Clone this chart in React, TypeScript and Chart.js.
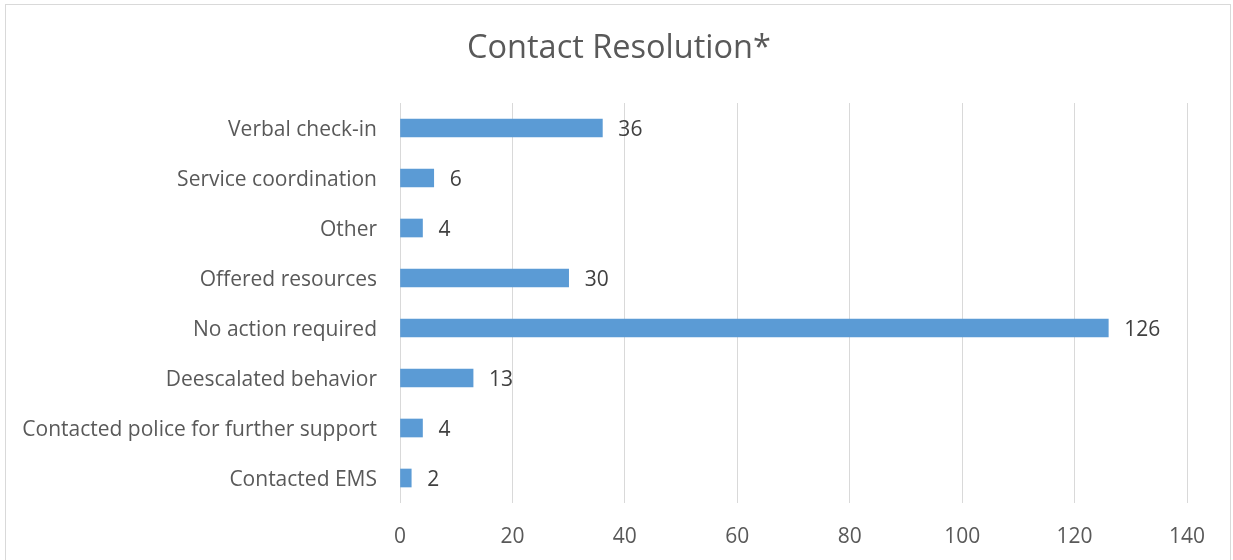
import React, { useEffect, useRef } from "react";
import { Chart, registerables } from "chart.js";

Chart.register(...registerables);

const categories = [
  "Verbal check-in",
  "Service coordination",
  "Other",
  "Offered resources",
  "No action required",
  "Deescalated behavior",
  "Contacted police for further support",
  "Contacted EMS",
];
const values = [36, 6, 4, 30, 126, 13, 4, 2];
const titleText = "Contact Resolution*";
const FONT = "'Open Sans', sans-serif";

const labelPlugin = {
  id: "barLabels",
  afterDatasetsDraw(chart: any) {
    const ctx = chart.ctx;
    const meta = chart.getDatasetMeta(0);
    ctx.save();
    ctx.font = `21px ${FONT}`;
    ctx.fillStyle = "#404040";
    ctx.textAlign = "left";
    ctx.textBaseline = "middle";
    meta.data.forEach((el: any, i: number) => {
      ctx.fillText(String(values[i]), el.x + 16, el.y + 2);
    });
    ctx.restore();
  },
};

const titlePlugin = {
  id: "customTitle",
  afterDraw(chart: any) {
    const ctx = chart.ctx;
    ctx.save();
    ctx.font = `32.5px ${FONT}`;
    ctx.fillStyle = "#595959";
    ctx.textAlign = "center";
    ctx.textBaseline = "middle";
    ctx.fillText(titleText, 619, 49);
    ctx.restore();
  },
};

export default function App() {
  const ref = useRef<HTMLCanvasElement>(null);
  useEffect(() => {
    if (!ref.current) return;
    const chart = new Chart(ref.current, {
      type: "bar",
      data: {
        labels: categories,
        datasets: [
          {
            data: values,
            backgroundColor: "#5B9BD5",
            barThickness: 18,
          },
        ],
      },
      options: {
        indexAxis: "y",
        animation: false,
        responsive: false,
        maintainAspectRatio: false,
        layout: { padding: { left: 0, right: 46, top: 103, bottom: 0 } },
        plugins: {
          legend: { display: false },
          tooltip: { enabled: false },
          title: { display: false },
        },
        scales: {
          x: {
            min: 0,
            max: 140,
            ticks: {
              stepSize: 20,
              color: "#595959",
              font: { family: FONT, size: 21 },
              padding: 21,
            },
            grid: { color: "#d9d9d9", drawTicks: false },
            border: { display: false },
            afterFit(scale: any) {
              scale.height = 57;
            },
          },
          y: {
            ticks: {
              color: "#595959",
              font: { family: FONT, size: 21 },
              padding: 23,
              labelOffset: 2,
            },
            grid: { display: false, drawTicks: false },
            border: { display: false },
            afterFit(scale: any) {
              scale.width = 400;
            },
          },
        },
      },
      plugins: [labelPlugin, titlePlugin],
    });
    return () => chart.destroy();
  }, []);
  return (
    <div style={{ position: "fixed", left: 0, top: 0, width: 1233, height: 560, background: "#fff" }}>
      <div
        style={{
          position: "absolute",
          left: 5,
          top: 4,
          width: 1226,
          height: 600,
          border: "1px solid #d9d9d9",
          boxSizing: "border-box",
        }}
      />
      <canvas ref={ref} width={1233} height={560} style={{ position: "absolute", left: 0, top: 0 }} />
    </div>
  );
}
